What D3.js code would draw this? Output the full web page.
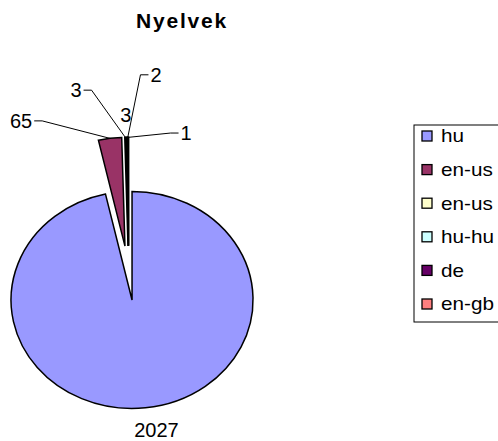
<!DOCTYPE html>
<html>
<head>
<meta charset="utf-8">
<script src="https://cdn.jsdelivr.net/npm/d3@7"></script>
<style>
  body { margin: 0; background: #fff; }
  text { font-family: Arial, "Liberation Sans", sans-serif; }
</style>
</head>
<body>
<svg id="chart" width="498" height="441"></svg>
<script>
// values
const languages = ['hu', 'en-us', 'en-us', 'hu-hu', 'de', 'en-gb'];
const counts = [2027, 65, 3, 3, 2, 1];
const colors = ['#9999FF', '#993366', '#FFFFCC', '#CCFFFF', '#660066', '#FF8080'];

// where each value label sits: angle (deg, clockwise from top), distance in radii, leader line?
const labelAngle = [171, 327.6, 345.5, 359.1, 7.05, 20.2];
const labelDist = [1.464, 1.66, 1.74, 1.455, 1.84, 1.374];
const labelLeader = [false, true, true, false, true, true];

const width = 498, height = 441;
const cx = 128.7, cy = 273;
const r = 121;
const squash = 0.897;   // the pie is a little flatter than wide
const explode = 0.25 * r;
const stretch = 1.15;   // legend text is drawn a bit wide

const svg = d3.select("#chart");

svg.append("text")
    .attr("x", 182)
    .attr("y", 28)
    .attr("text-anchor", "middle")
    .style("font-size", "21px")
    .style("font-weight", "bold")
    .style("letter-spacing", "1.8px")
    .text("Nyelvek");

const data = languages.map((l, i) => ({ lang: l, value: counts[i], color: colors[i], i: i }));

const pie = d3.pie().sort(null).value(d => d.value);
const arcs = pie(data);
const arc = d3.arc().innerRadius(0).outerRadius(r);

// polar -> screen, with the flattening applied
function pt(angle, dist) {
    return [cx + dist * Math.sin(angle), cy - dist * Math.cos(angle) * squash];
}

const g = svg.append("g")
    .attr("transform", `translate(${cx},${cy}) scale(1,${squash})`);

g.selectAll("path")
    .data(arcs)
    .join("path")
    .attr("transform", d => {
        const mid = (d.startAngle + d.endAngle) / 2;
        return `translate(${explode * Math.sin(mid)},${-explode * Math.cos(mid)})`;
    })
    .attr("d", arc)
    .attr("fill", d => d.data.color)
    .attr("stroke", "#000")
    .attr("stroke-width", 1.5)
    .attr("stroke-linejoin", "miter")
    .attr("vector-effect", "non-scaling-stroke");

// value labels and leader lines
arcs.forEach((d, i) => {
    const [lx, ly] = pt(labelAngle[i] * Math.PI / 180, labelDist[i] * r);
    const t = svg.append("text")
        .attr("x", lx)
        .attr("y", ly)
        .attr("text-anchor", "middle")
        .attr("dy", "0.36em")
        .style("font-size", "20px")
        .text(d.data.value);
    if (!labelLeader[i]) return;
    const mid = (d.startAngle + d.endAngle) / 2;
    const [ex, ey] = pt(mid, r + explode);
    const w = t.node().getComputedTextLength();
    const side = lx < ex ? 1 : -1;
    const sx = lx + side * (w / 2 + 2);
    const pts = [[sx, ly], [sx + side * 8, ly], [ex, ey]];
    svg.append("path")
        .attr("d", d3.line()(pts))
        .attr("fill", "none")
        .attr("stroke", "#000")
        .attr("stroke-width", 1);
});

// legend
const legX = 414, legTop = 125, legBottom = 322;
svg.append("rect")
    .attr("x", legX)
    .attr("y", legTop)
    .attr("width", 120)
    .attr("height", legBottom - legTop)
    .attr("fill", "#fff")
    .attr("stroke", "#000")
    .attr("stroke-width", 1);

const rowY = d3.scalePoint().domain(d3.range(languages.length)).range([136, 304]);

const items = svg.selectAll(".leg")
    .data(data)
    .join("g")
    .attr("class", "leg")
    .attr("transform", d => `translate(${legX + 8},${rowY(d.i)})`);

items.append("rect")
    .attr("x", 0)
    .attr("y", -5)
    .attr("width", 10)
    .attr("height", 10)
    .attr("fill", d => d.color)
    .attr("stroke", "#000")
    .attr("stroke-width", 1.3);

items.append("text")
    .attr("transform", `translate(19,0) scale(${stretch},1)`)
    .attr("dy", "0.36em")
    .style("font-size", "18px")
    .text(d => d.lang);
</script>
</body>
</html>
